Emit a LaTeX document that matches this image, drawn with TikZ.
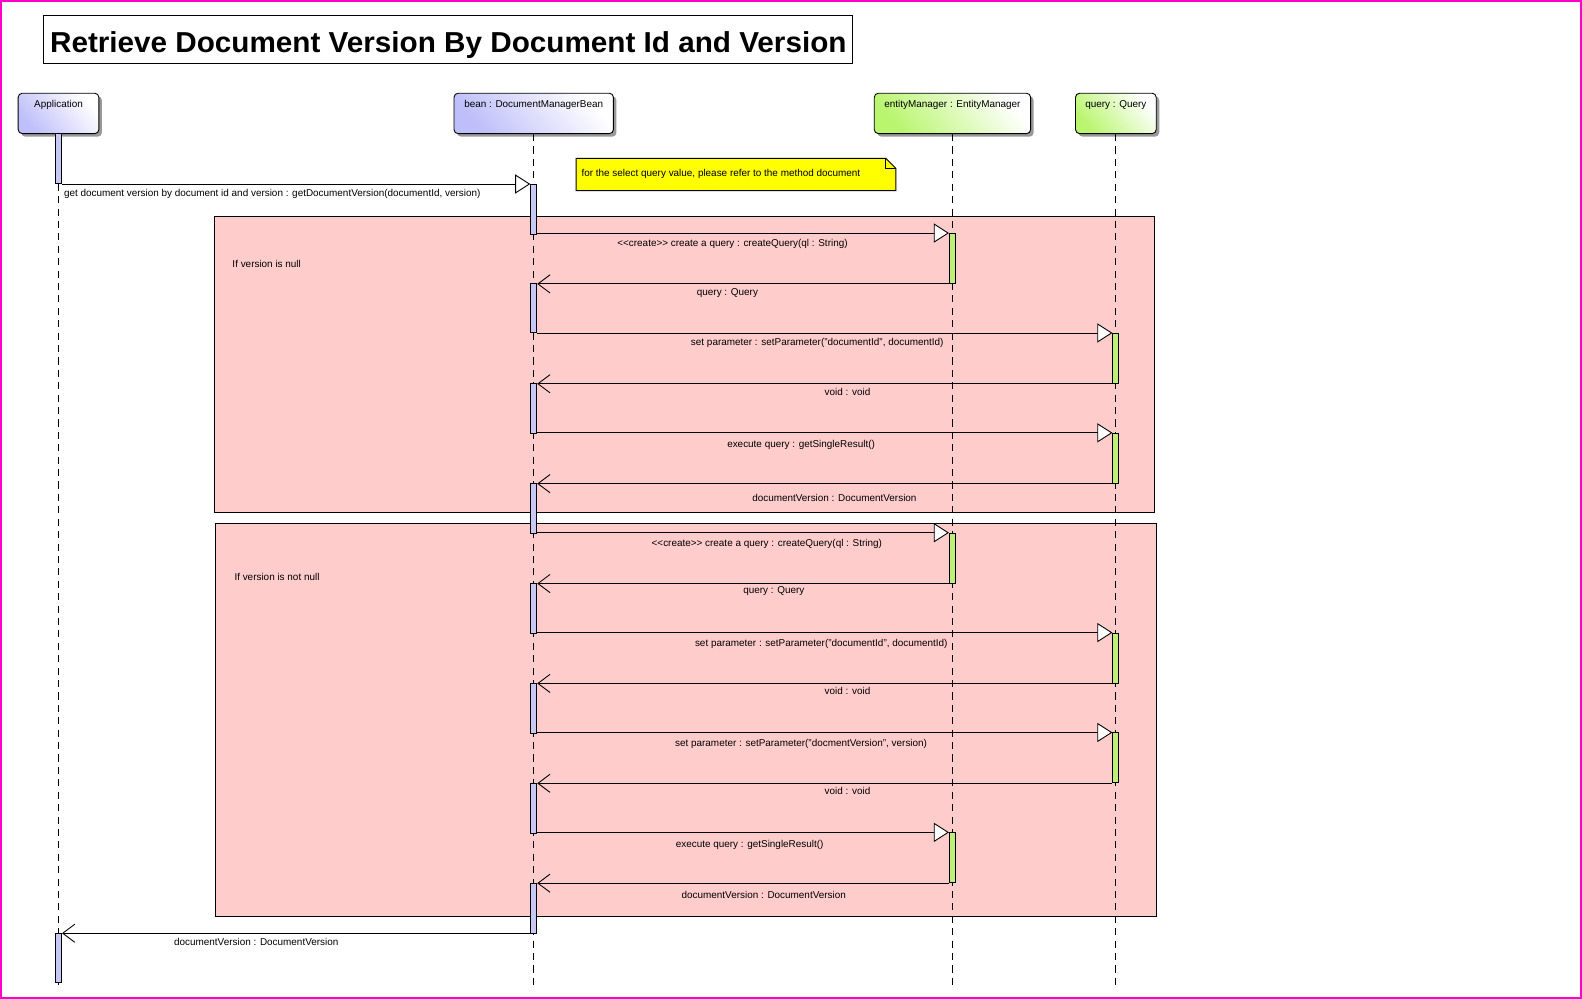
\documentclass[tikz,border=0pt]{standalone}
\usepackage{fontspec}
\setmainfont{Liberation Sans}
\usepackage{tikz}
\usetikzlibrary{positioning,arrows.meta,shadows}
\definecolor{actblue}{RGB}{200,200,245}
\definecolor{actgreen}{RGB}{190,240,120}
\definecolor{headblue}{RGB}{190,190,250}
\definecolor{headgreen}{RGB}{185,245,110}
\definecolor{framepink}{RGB}{255,204,204}
\definecolor{noteyellow}{RGB}{255,255,0}
\definecolor{edgepink}{RGB}{255,0,200}
\newcommand{\lblfont}{\fontsize{5.6pt}{6.5pt}\selectfont}

\begin{document}
\begin{tikzpicture}[x=0.02cm,y=-0.02cm,line width=0.5pt,
  head/.style={draw,rounded corners=0.08cm,anchor=north,minimum height=0.8cm,
    inner ysep=0.08cm,text height=0.2cm,text depth=0.44cm,font=\lblfont,
    drop shadow={shadow xshift=0.06cm,shadow yshift=-0.06cm,fill=gray!80,opacity=1}},
  hb/.style={head,bottom color=headblue,top color=white,shading angle=-50},
  hg/.style={head,bottom color=headgreen,top color=white,shading angle=-50},
  life/.style={dash pattern=on 4pt off 3pt},
  actb/.style={draw,fill=actblue,anchor=north,minimum width=0.12cm,minimum height=0.99cm,inner sep=0pt},
  actg/.style={actb,fill=actgreen},
  frame/.style={draw,fill=framepink,anchor=north west,inner sep=0pt},
  lbl/.style={font=\lblfont,inner sep=0pt},
  call/.style={-{Triangle[fill=white,length=0.3cm,width=0.38cm]}},
  ret/.style={-{Straight Barb[length=0.24cm,width=0.36cm]}}
]
\useasboundingbox (0,0) rectangle (1568,990);
\draw[edgepink,line width=0.04cm] (1,1) rectangle (1567,989);

\node[draw,anchor=north west,minimum width=16.04cm,minimum height=0.94cm,inner ysep=0pt,
  inner xsep=1pt,text height=0.74cm,text depth=0.2cm,
  font=\fontsize{15.5pt}{17pt}\bfseries\selectfont] (title) at (43,15)
  {\scalebox{1.08}[1.05]{Retrieve Document Version By Document Id and Version}};

\node[frame,minimum width=18.64cm,minimum height=5.88cm] (alt1) at (212,214) {};
\node[frame,minimum width=18.66cm,minimum height=7.8cm] (alt2) at (213,518) {};
\node[lbl,anchor=west] (cond1) at (230,262) {If version is null};
\node[lbl,anchor=west] (cond2) at (232,572) {If version is not null};

\draw[fill=noteyellow] (571,157) -- (878,157) -- (888,167) -- (888,189) -- (571,189) -- cycle;
\draw (878,157) -- (878,167) -- (888,167);
\node[lbl,anchor=west] (note) at (576,172) {for the select query value, please refer to the method document};

\node[hb,minimum width=1.6cm] (app) at (58,92) {Application};
\node[hb,minimum width=3.16cm] (bean) at (529,92) {bean : DocumentManagerBean};
\node[hg,minimum width=3.1cm] (em) at (944,92) {entityManager : EntityManager};
\node[hg,minimum width=1.6cm] (qry) at (1106,92) {query : Query};

\coordinate (appEnd) at (58,980);
\coordinate (beanEnd) at (529,980);
\coordinate (emEnd) at (944,980);
\coordinate (qryEnd) at (1106,980);
\draw[life] (app.south) -- (appEnd);
\draw[life] (bean.south) -- (beanEnd);
\draw[life] (em.south) -- (emEnd);
\draw[life] (qry.south) -- (qryEnd);

\node[actb] (a1) at (58,132) {};
\node[actb,minimum height=0.96cm] (a2) at (58,925) {};
\node[actb] (b1) at (529,182) {};
\node[actb] (b2) at (529,280) {};
\node[actb] (b3) at (529,380) {};
\node[actb] (b4) at (529,479) {};
\node[actb] (b5) at (529,578) {};
\node[actb] (b6) at (529,677) {};
\node[actb] (b7) at (529,776) {};
\node[actb] (b8) at (529,875) {};
\node[actg] (e1) at (944,231) {};
\node[actg] (e2) at (944,528) {};
\node[actg] (e3) at (944,825) {};
\node[actg] (q1) at (1106,330) {};
\node[actg] (q2) at (1106,429) {};
\node[actg] (q3) at (1106,627) {};
\node[actg] (q4) at (1106,726) {};

\draw[call] (a1.south east) -- (b1.west |- a1.south);
\draw[call] (e1.north west -| b1.east) -- (e1.north west);
\draw[ret] (e1.south west) -- (b2.east |- e1.south);
\draw[call] (q1.north west -| b2.east) -- (q1.north west);
\draw[ret] (q1.south west) -- (b3.east |- q1.south);
\draw[call] (q2.north west -| b3.east) -- (q2.north west);
\draw[ret] (q2.south west) -- (b4.east |- q2.south);
\draw[call] (e2.north west -| b4.east) -- (e2.north west);
\draw[ret] (e2.south west) -- (b5.east |- e2.south);
\draw[call] (q3.north west -| b5.east) -- (q3.north west);
\draw[ret] (q3.south west) -- (b6.east |- q3.south);
\draw[call] (q4.north west -| b6.east) -- (q4.north west);
\draw[ret] (q4.south west) -- (b7.east |- q4.south);
\draw[call] (e3.north west -| b7.east) -- (e3.north west);
\draw[ret] (e3.south west) -- (b8.east |- e3.south);
\draw[ret] (a2.north east -| b8.west) -- (a2.north east);

\node[lbl,anchor=west] (m1) at (63,192) {get document version by document id and version : getDocumentVersion(documentId, version)};
\node[lbl] (m2) at (726,242) {<{}<create>{}> create a query : createQuery(ql : String)};
\node[lbl] (m3) at (721,290) {query : Query};
\node[lbl] (m4) at (810,340) {set parameter : setParameter("documentId", documentId)};
\node[lbl] (m5) at (840,388) {void : void};
\node[lbl] (m6) at (794,441) {execute query : getSingleResult()};
\node[lbl] (m7) at (827,494) {documentVersion : DocumentVersion};
\node[lbl] (m8) at (760,539) {<{}<create>{}> create a query : createQuery(ql : String)};
\node[lbl] (m9) at (767,586) {query : Query};
\node[lbl] (m10) at (814,638) {set parameter : setParameter("documentId", documentId)};
\node[lbl] (m11) at (840,685) {void : void};
\node[lbl] (m12) at (794,737) {set parameter : setParameter("docmentVersion", version)};
\node[lbl] (m13) at (840,784) {void : void};
\node[lbl] (m14) at (743,837) {execute query : getSingleResult()};
\node[lbl] (m15) at (757,887) {documentVersion : DocumentVersion};
\node[lbl] (m16) at (254,934) {documentVersion : DocumentVersion};
\end{tikzpicture}
\end{document}
